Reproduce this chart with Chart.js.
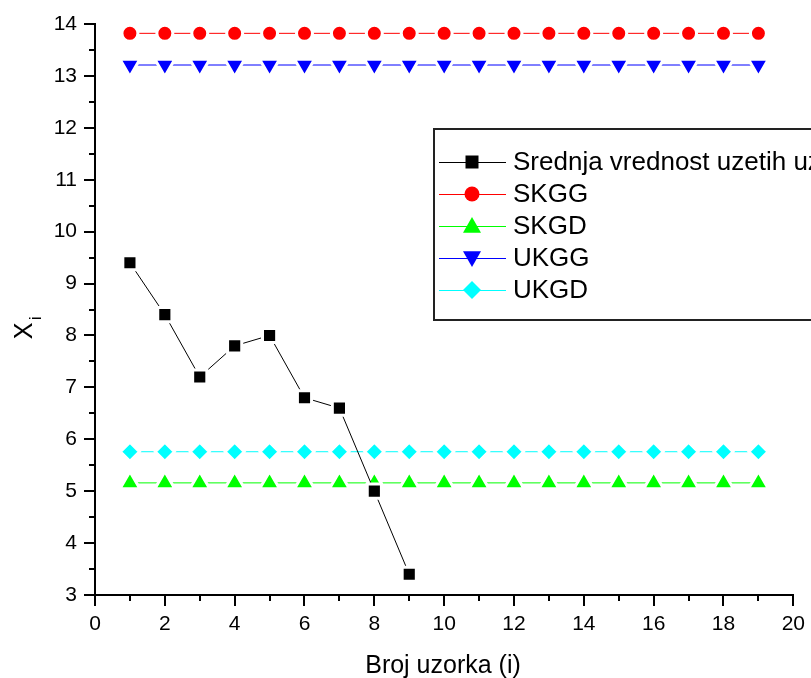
<!DOCTYPE html>
<html>
<head>
<meta charset="utf-8">
<script src="https://cdn.jsdelivr.net/npm/chart.js@4.4.1/dist/chart.umd.min.js"></script>
<style>
  body { margin: 0; background: #fff; }
  canvas { display: block; }
</style>
</head>
<body>
<canvas id="myChart" width="811" height="678"></canvas>
<script>
'use strict';

// sample numbers (x axis)
let sampleNo = [1, 2, 3, 4, 5, 6, 7, 8, 9, 10, 11, 12, 13, 14, 15, 16, 17, 18, 19];

// mean of the taken samples
let meanValues = [9.4, 8.4, 7.2, 7.8, 8.0, 6.8, 6.6, 5.0, 3.4];

// control limits
let skggValues = [13.82, 13.82, 13.82, 13.82, 13.82, 13.82, 13.82, 13.82, 13.82, 13.82, 13.82, 13.82, 13.82, 13.82, 13.82, 13.82, 13.82, 13.82, 13.82];
let skgdValues = [5.16, 5.16, 5.16, 5.16, 5.16, 5.16, 5.16, 5.16, 5.16, 5.16, 5.16, 5.16, 5.16, 5.16, 5.16, 5.16, 5.16, 5.16, 5.16];
let ukggValues = [13.21, 13.21, 13.21, 13.21, 13.21, 13.21, 13.21, 13.21, 13.21, 13.21, 13.21, 13.21, 13.21, 13.21, 13.21, 13.21, 13.21, 13.21, 13.21];
let ukgdValues = [5.76, 5.76, 5.76, 5.76, 5.76, 5.76, 5.76, 5.76, 5.76, 5.76, 5.76, 5.76, 5.76, 5.76, 5.76, 5.76, 5.76, 5.76, 5.76];

let seriesNames = ['Srednja vrednost uzetih uzoraka', 'SKGG', 'SKGD', 'UKGG', 'UKGD'];

let xTicks = [0, 2, 4, 6, 8, 10, 12, 14, 16, 18, 20];
let yTicks = [3, 4, 5, 6, 7, 8, 9, 10, 11, 12, 13, 14];

const FONT = '"Liberation Sans", Arial, sans-serif';

function toPoints( values ) {
  let pts = [];
  for ( let i = 0; i < values.length; i++ ) {
    pts.push( { x: sampleNo[i], y: values[i] } );
  }
  return pts;
}

// marker styles: [color, pointStyle, radius, rotation]
let styles = [
  ['#000000', 'rect', 10, 0],
  ['#ff0000', 'circle', 8, 0],
  ['#00ff00', 'triangle', 11.5, 0],
  ['#0000ff', 'triangle', 11.5, 180],
  ['#00ffff', 'rectRot', 9.5, 0],
];

let allValues = [meanValues, skggValues, skgdValues, ukggValues, ukgdValues];
let datasets = [];
for ( let i = 0; i < allValues.length; i++ ) {
  datasets.push( {
    label: seriesNames[i],
    data: toPoints( allValues[i] ),
    borderColor: styles[i][0],
    backgroundColor: styles[i][0],
    borderWidth: 1,
    pointStyle: styles[i][1],
    pointRadius: styles[i][2],
    pointRotation: styles[i][3],
    pointBackgroundColor: styles[i][0],
    pointBorderColor: '#ffffff',
    pointBorderWidth: 3,
    tension: 0,
  } );
}

function drawMarker( ctx, style, x, y, size ) {
  ctx.beginPath();
  if ( style === 'rect' ) {
    ctx.rect( x - size, y - size, size * 2, size * 2 );
  } else if ( style === 'circle' ) {
    ctx.arc( x, y, size, 0, Math.PI * 2 );
  } else if ( style === 'up' ) {
    ctx.moveTo( x, y - size );
    ctx.lineTo( x + size, y + size * 0.75 );
    ctx.lineTo( x - size, y + size * 0.75 );
  } else if ( style === 'down' ) {
    ctx.moveTo( x, y + size );
    ctx.lineTo( x + size, y - size * 0.75 );
    ctx.lineTo( x - size, y - size * 0.75 );
  } else {
    ctx.moveTo( x, y - size );
    ctx.lineTo( x + size, y );
    ctx.lineTo( x, y + size );
    ctx.lineTo( x - size, y );
  }
  ctx.closePath();
  ctx.fill();
}

const extras = {
  id: 'extras',
  afterDraw( chart ) {
    const ctx = chart.ctx;
    const xs = chart.scales.x;
    const ys = chart.scales.y;
    const area = chart.chartArea;
    ctx.save();

    // minor ticks
    ctx.strokeStyle = '#000';
    ctx.lineWidth = 2;
    ctx.beginPath();
    for ( let v = 1; v < 20; v += 2 ) {
      let px = Math.round( xs.getPixelForValue( v ) );
      ctx.moveTo( px, area.bottom );
      ctx.lineTo( px, area.bottom + 6 );
    }
    for ( let v = 3.5; v < 14; v += 1 ) {
      let py = Math.round( ys.getPixelForValue( v ) );
      ctx.moveTo( area.left, py );
      ctx.lineTo( area.left - 6, py );
    }
    ctx.stroke();

    // axis titles
    ctx.fillStyle = '#000';
    ctx.font = '25px ' + FONT;
    ctx.textAlign = 'center';
    ctx.textBaseline = 'alphabetic';
    ctx.fillText( 'Broj uzorka (i)', 443, 673 );

    ctx.save();
    ctx.translate( 0, 331 );
    ctx.rotate( -Math.PI / 2 );
    ctx.textAlign = 'center';
    ctx.font = '25px ' + FONT;
    ctx.fillText( 'X', 0, 32 );
    ctx.textAlign = 'left';
    ctx.font = '16px ' + FONT;
    ctx.fillText( 'i', 11, 41 );
    ctx.restore();

    // legend
    let lx = 434;
    let ly = 129;
    ctx.fillStyle = '#fff';
    ctx.fillRect( lx, ly, 400, 191 );
    ctx.strokeStyle = '#222';
    ctx.lineWidth = 2;
    ctx.strokeRect( lx, ly, 400, 191 );

    let markerKind = ['rect', 'circle', 'up', 'down', 'diamond'];
    let markerSize = [6.5, 7.5, 9, 9, 9];
    ctx.font = '26px ' + FONT;
    ctx.textAlign = 'left';
    ctx.textBaseline = 'middle';
    for ( let i = 0; i < seriesNames.length; i++ ) {
      let cy = 162 + i * 32;
      ctx.strokeStyle = styles[i][0];
      ctx.lineWidth = 1;
      ctx.beginPath();
      ctx.moveTo( 439, cy + 0.5 );
      ctx.lineTo( 506, cy + 0.5 );
      ctx.stroke();
      ctx.fillStyle = styles[i][0];
      drawMarker( ctx, markerKind[i], 472, cy, markerSize[i] );
      ctx.fillStyle = '#000';
      ctx.fillText( seriesNames[i], 513, cy + 1 );
    }
    ctx.restore();
  }
};

let ctx = document.getElementById( 'myChart' ).getContext( '2d' );
let myChart = new Chart( ctx, {
  type: 'line',
  data: { datasets: datasets },
  options: {
    responsive: false,
    animation: false,
    layout: { padding: { top: 24, right: 15, left: 0, bottom: 0 } },
    plugins: {
      legend: { display: false },
      tooltip: { enabled: false },
    },
    scales: {
      x: {
        type: 'linear',
        min: 0,
        max: 20,
        afterBuildTicks: ( scale ) => {
          scale.ticks = xTicks.map( ( v ) => ( { value: v } ) );
        },
        afterFit: ( scale ) => { scale.height = 83; },
        border: { color: '#000', width: 2 },
        grid: { drawOnChartArea: false, drawTicks: true, tickLength: 11, lineWidth: 2, color: '#000' },
        ticks: { color: '#000', font: { family: FONT, size: 21 }, padding: 6, maxRotation: 0 },
      },
      y: {
        type: 'linear',
        min: 3,
        max: 14,
        afterBuildTicks: ( scale ) => {
          scale.ticks = yTicks.map( ( v ) => ( { value: v } ) );
        },
        afterFit: ( scale ) => { scale.width = 95; },
        border: { color: '#000', width: 2 },
        grid: { drawOnChartArea: false, drawTicks: true, tickLength: 11, lineWidth: 2, color: '#000' },
        ticks: { color: '#000', font: { family: FONT, size: 21 }, padding: 7 },
      },
    },
  },
  plugins: [extras],
} );
</script>
</body>
</html>
